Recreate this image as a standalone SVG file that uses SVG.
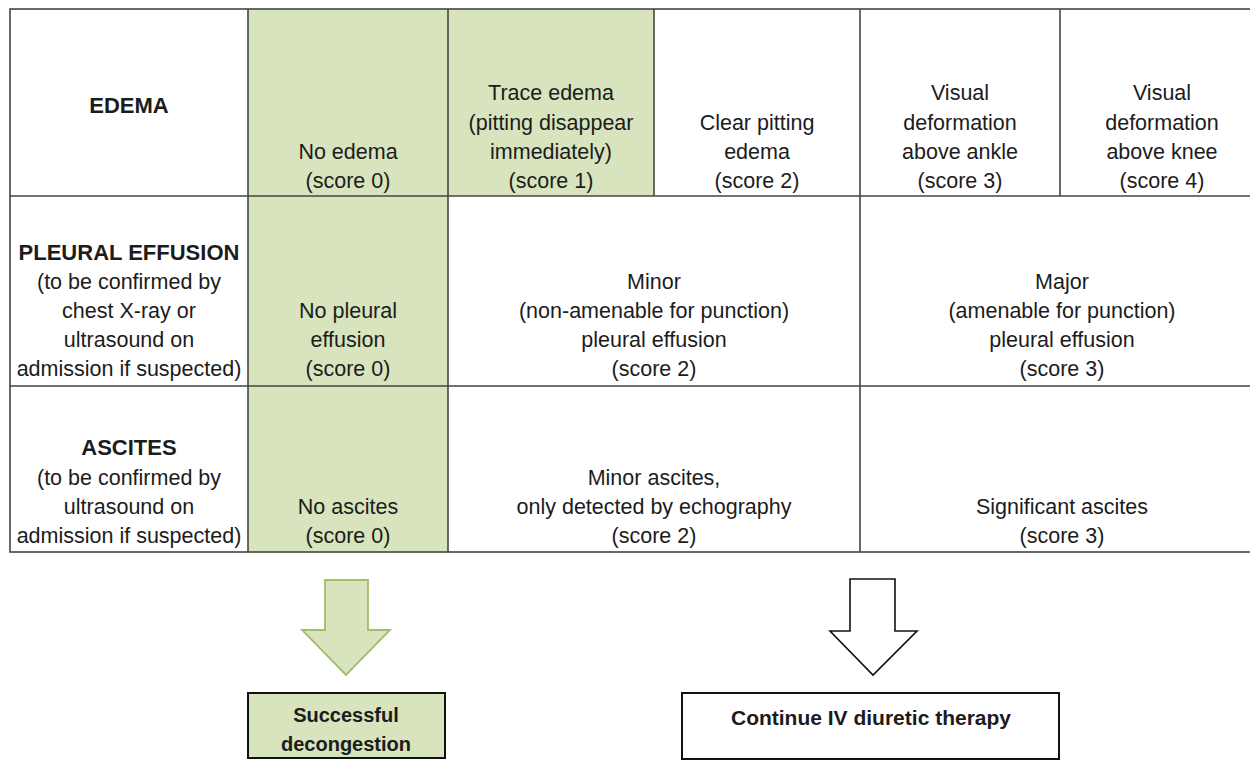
<svg xmlns="http://www.w3.org/2000/svg" width="1250" height="771" viewBox="0 0 1250 771">
<style>
text{font-family:"Liberation Sans",Arial,sans-serif;fill:#1c1c1c;text-anchor:middle}
.r{font-size:21.5px}
.h{font-size:22px;font-weight:bold}
.b{font-size:20px;font-weight:bold}
.c{font-size:21px;font-weight:bold}
.g{fill:#d7e4bd}
.ln{stroke:#454545;stroke-width:1.6;fill:none}
</style>
<rect width="1250" height="771" fill="#ffffff"/>
<g id="table">
<rect class="g" x="248" y="9" width="200" height="543"/>
<rect class="g" x="448" y="9" width="206" height="187"/>
<g class="ln">
<rect x="10" y="9" width="1256" height="543"/>
<line x1="10" y1="196" x2="1266" y2="196"/>
<line x1="10" y1="386" x2="1266" y2="386"/>
<line x1="248" y1="9" x2="248" y2="552"/>
<line x1="448" y1="9" x2="448" y2="552"/>
<line x1="654" y1="9" x2="654" y2="196"/>
<line x1="860" y1="9" x2="860" y2="552"/>
<line x1="1060" y1="9" x2="1060" y2="196"/>
</g>
</g>
<g id="edema-header"><text class="h" x="129" y="113">EDEMA</text></g>
<g id="edema-0"><text class="r" x="348" y="159">No edema</text><text class="r" x="348" y="188">(score 0)</text></g>
<g id="edema-1"><text class="r" x="551" y="100">Trace edema</text><text class="r" x="551" y="130">(pitting disappear</text><text class="r" x="551" y="159">immediately)</text><text class="r" x="551" y="188">(score 1)</text></g>
<g id="edema-2"><text class="r" x="757" y="130">Clear pitting</text><text class="r" x="757" y="159">edema</text><text class="r" x="757" y="188">(score 2)</text></g>
<g id="edema-3"><text class="r" x="960" y="100">Visual</text><text class="r" x="960" y="130">deformation</text><text class="r" x="960" y="159">above ankle</text><text class="r" x="960" y="188">(score 3)</text></g>
<g id="edema-4"><text class="r" x="1162" y="100">Visual</text><text class="r" x="1162" y="130">deformation</text><text class="r" x="1162" y="159">above knee</text><text class="r" x="1162" y="188">(score 4)</text></g>
<g id="pleural-header"><text class="h" x="129" y="260">PLEURAL EFFUSION</text><text class="r" x="129" y="289">(to be confirmed by</text><text class="r" x="129" y="318">chest X-ray or</text><text class="r" x="129" y="347">ultrasound on</text><text class="r" x="129" y="376">admission if suspected)</text></g>
<g id="pleural-0"><text class="r" x="348" y="318">No pleural</text><text class="r" x="348" y="347">effusion</text><text class="r" x="348" y="376">(score 0)</text></g>
<g id="pleural-2"><text class="r" x="654" y="289">Minor</text><text class="r" x="654" y="318">(non-amenable for punction)</text><text class="r" x="654" y="347">pleural effusion</text><text class="r" x="654" y="376">(score 2)</text></g>
<g id="pleural-3"><text class="r" x="1062" y="289">Major</text><text class="r" x="1062" y="318">(amenable for punction)</text><text class="r" x="1062" y="347">pleural effusion</text><text class="r" x="1062" y="376">(score 3)</text></g>
<g id="ascites-header"><text class="h" x="129" y="455">ASCITES</text><text class="r" x="129" y="485">(to be confirmed by</text><text class="r" x="129" y="514">ultrasound on</text><text class="r" x="129" y="543">admission if suspected)</text></g>
<g id="ascites-0"><text class="r" x="348" y="514">No ascites</text><text class="r" x="348" y="543">(score 0)</text></g>
<g id="ascites-2"><text class="r" x="654" y="485">Minor ascites,</text><text class="r" x="654" y="514">only detected by echography</text><text class="r" x="654" y="543">(score 2)</text></g>
<g id="ascites-3"><text class="r" x="1062" y="514">Significant ascites</text><text class="r" x="1062" y="543">(score 3)</text></g>
<g id="connectors">
<path d="M325,580 H368 V630 H390 L346,675 L302,630 H325 Z" fill="#d7e4bd" stroke="#9fbf6a" stroke-width="1.8"/>
<path d="M850,579 H895 V631 H917 L873,675 L830,631 H850 Z" fill="#ffffff" stroke="#111" stroke-width="1.6"/>
</g>
<g id="successful-decongestion">
<rect x="248" y="693" width="197" height="65" fill="#d7e4bd" stroke="#111" stroke-width="2"/>
<text class="b" x="346" y="722">Successful</text><text class="b" x="346" y="751">decongestion</text>
</g>
<g id="continue-iv">
<rect x="682" y="693" width="377" height="66" fill="#ffffff" stroke="#111" stroke-width="2"/>
<text class="c" x="871" y="725">Continue IV diuretic therapy</text>
</g>
</svg>
